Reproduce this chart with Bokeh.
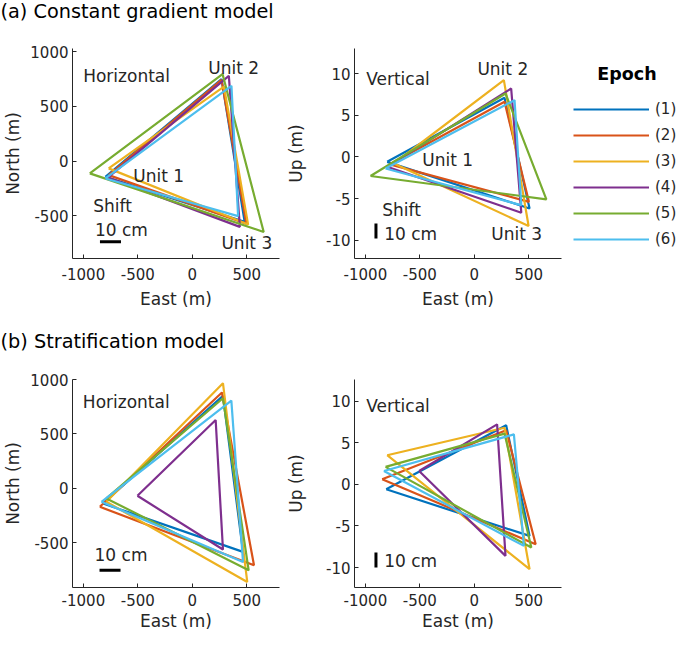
from bokeh.plotting import figure
from bokeh.models import Label, Legend, LegendItem, FixedTicker, Range1d
from bokeh.layouts import column, row
from bokeh.embed import file_html
from bokeh.resources import INLINE

# ---------------- data ----------------
epochs = ["(1)", "(2)", "(3)", "(4)", "(5)", "(6)"]
colors = ["#0072BD", "#D95319", "#EDB120", "#7E2F8E", "#77AC30", "#4DBEEE"]

# (a) Constant gradient model: Unit1, Unit2, Unit3 per epoch
a_east_h = [[-798, 268, 480], [-768, 268, 496], [-768, 290, 512],
            [-775, 335, 436], [-941, 277, 655], [-798, 359, 420]]
a_north = [[-143, 750, -555], [-128, 743, -571], [-66, 682, -580],
           [-150, 780, -601], [-112, 796, -647], [-158, 688, -503]]
a_east_v = [[-800, 277, 507], [-775, 277, 501], [-738, 271, 498],
            [-800, 338, 431], [-953, 286, 661], [-815, 369, 431]]
a_up = [[-0.6, 7.1, -6.2], [-0.9, 6.6, -5.4], [-0.8, 9.2, -8.3],
        [-1.2, 8.2, -6.7], [-2.3, 7.6, -5.1], [-1.4, 6.8, -5.8]]

# (b) Stratification model
b_east_h = [[-820, 281, 465], [-849, 272, 566], [-789, 281, 504],
            [-504, 214, 281], [-789, 281, 517], [-834, 358, 465]]
b_north = [[-138, 850, -583], [-169, 880, -706], [-123, 966, -859],
           [-68, 628, -561], [-92, 828, -752], [-123, 806, -675]]
b_east_v = [[-809, 292, 507], [-846, 292, 563], [-800, 277, 507],
            [-507, 209, 286], [-815, 277, 523], [-830, 363, 455]]
b_up = [[-0.6, 7.1, -6.2], [0.6, 6.5, -7.2], [3.5, 6.8, -10.2],
        [1.6, 7.2, -8.6], [2.1, 6.1, -7.6], [1.6, 6.0, -7.4]]

x_ticks = [-1000, -500, 0, 500]
h_ticks = [-500, 0, 500, 1000]
v_ticks = [-10, -5, 0, 5, 10]

FONT = "DejaVu Sans"
AX = "#262626"


def make_fig(w, h, ml, mr, mt, mb, yr, yticks, ylabel, xls=6, yls=3, xms=9):
    p = figure(frame_width=w, frame_height=h, min_border_left=ml, min_border_right=mr,
               min_border_top=mt, min_border_bottom=mb,
               x_range=Range1d(-1100, 800), y_range=Range1d(*yr),
               output_backend="svg", toolbar_location=None)
    p.outline_line_color = None
    p.grid.visible = False
    p.background_fill_color = "white"
    p.xaxis.ticker = FixedTicker(ticks=x_ticks)
    p.yaxis.ticker = FixedTicker(ticks=yticks)
    p.xaxis.major_label_overrides = {t: str(t) for t in x_ticks}
    p.yaxis.major_label_overrides = {t: str(t) for t in yticks}
    for ax in (p.xaxis, p.yaxis):
        ax.axis_line_color = AX
        ax.major_tick_line_color = AX
        ax.major_tick_in = 4
        ax.major_tick_out = 0
        ax.minor_tick_line_color = None
        ax.major_label_text_font = FONT
        ax.major_label_text_font_size = "15px"
        ax.major_label_text_color = AX
        ax.axis_label_text_font = FONT
        ax.axis_label_text_font_size = "17px"
        ax.axis_label_text_font_style = "normal"
        ax.axis_label_text_color = AX
    p.xaxis.major_label_standoff = xms
    p.yaxis.major_label_standoff = 4
    p.xaxis.axis_label = "East (m)"
    p.yaxis.axis_label = ylabel
    p.xaxis.axis_label_standoff = xls
    p.yaxis.axis_label_standoff = yls
    return p


def draw(p, xs, ys):
    rs = []
    for k in range(len(epochs)):
        x = list(xs[k]) + [xs[k][0]]
        y = list(ys[k]) + [ys[k][0]]
        r = p.line(x, y, line_color=colors[k], line_width=2.2)
        rs.append(r)
    return rs


def lab(p, x, y, t, size="17px", color=AX):
    p.add_layout(Label(x=x, y=y, text=t, text_font=FONT, text_font_size=size,
                       text_color=color, text_align="left", text_baseline="middle"))


def title_fig(h, t, yfrac):
    p = figure(width=669, height=h, min_border=0, x_range=Range1d(0, 1),
               y_range=Range1d(0, 1), x_axis_type=None, y_axis_type=None,
               output_backend="svg", toolbar_location=None)
    p.outline_line_color = None
    p.grid.visible = False
    lab(p, 0, yfrac, t, size="19.3px", color="black")
    return p


# ---- titles ----
title_a = title_fig(22, "(a) Constant gradient model", 0.5)
title_b = title_fig(40, "(b) Stratification model", 0.3)

# ---- (a) horizontal ----
ta = make_fig(207, 210, 66, 4, 26, 55, (-890, 1030), h_ticks, "North (m)", yls=4)
draw(ta, a_east_h, a_north)
lab(ta, -1002, 777, "Horizontal")
lab(ta, 147, 850, "Unit 2")
lab(ta, -542, -137, "Unit 1")
lab(ta, 267, -748, "Unit 3")
lab(ta, -910, -411, "Shift")
lab(ta, -894, -627, "10 cm")
ta.line([-848, -655], [-737, -737], line_color="black", line_width=3)

# ---- (a) vertical ----
tb = make_fig(207, 210, 70, 115, 26, 55, (-12.2, 13.0), v_ticks, "Up (m)", yls=17)
rs = draw(tb, a_east_v, a_up)
lab(tb, -993, 9.4, "Vertical")
lab(tb, 28, 10.6, "Unit 2")
lab(tb, -478, -0.4, "Unit 1")
lab(tb, 156, -9.2, "Unit 3")
lab(tb, -846, -6.4, "Shift")
lab(tb, -827, -9.2, "10 cm")
tb.line([-903, -903], [-8.0, -9.8], line_color="black", line_width=3)
legend = Legend(items=[LegendItem(label=epochs[k], renderers=[rs[k]]) for k in range(6)],
                title="\u00a0\u00a0\u00a0\u00a0Epoch", location=(12, 9))
legend.title_text_font = FONT
legend.title_text_font_size = "17.5px"
legend.title_text_font_style = "bold"
legend.title_text_color = "black"
legend.label_text_font = FONT
legend.label_text_font_size = "15px"
legend.label_text_color = AX
legend.glyph_width = 76
legend.glyph_height = 20
legend.spacing = 6
legend.label_standoff = 6
legend.padding = 0
legend.margin = 0
legend.title_standoff = 15
legend.border_line_color = None
legend.background_fill_alpha = 0
tb.add_layout(legend, "right")

# ---- (b) horizontal ----
ba = make_fig(207, 208, 66, 4, 26, 47, (-910, 1000), h_ticks, "North (m)", xls=2, yls=4, xms=6)
draw(ba, b_east_h, b_north)
lab(ba, -1005, 797, "Horizontal")
lab(ba, -898, -614, "10 cm")
ba.line([-852, -659], [-752, -752], line_color="black", line_width=3)

# ---- (b) vertical ----
bb = make_fig(207, 208, 70, 3, 26, 47, (-12.4, 12.6), v_ticks, "Up (m)", xls=2, yls=17, xms=6)
draw(bb, b_east_v, b_up)
lab(bb, -993, 9.4, "Vertical")
lab(bb, -827, -9.2, "10 cm")
bb.line([-903, -903], [-8.2, -10.0], line_color="black", line_width=3)

layout = column(title_a, row(ta, tb), title_b, row(ba, bb))
open("out.html", "w").write(file_html(layout, INLINE))
